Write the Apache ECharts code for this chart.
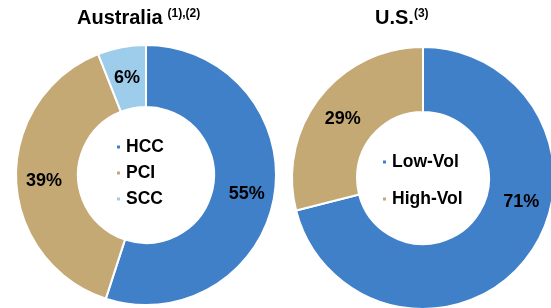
<!DOCTYPE html>
<html>
<head>
<meta charset="utf-8">
<script src="https://cdn.jsdelivr.net/npm/echarts@6/dist/echarts.min.js"></script>
<style>
    html, body {margin: 0; padding: 0; background: #fff;}
    #main {width: 551px; height: 308px;}
</style>
</head>
<body>
<div id="main"></div>
<script>
let auNames = ['HCC', 'PCI', 'SCC'],
    auValues = [55, 39, 6],
    usNames = ['Low-Vol', 'High-Vol'],
    usValues = [71, 29],
    blue = '#4080C9',
    tan = '#C5A975',
    lightBlue = '#9ECDEB';

let myChart = echarts.init(document.getElementById('main'));

let labelStyle = {
    show: true,
    position: 'inside',
    formatter: '{c}%',
    offset: [0, 3],
    color: '#000',
    fontSize: 18,
    fontWeight: 'bold',
    fontFamily: 'Liberation Sans'
};

let legendText = {
    color: '#000',
    fontSize: 17.5,
    fontWeight: 'bold',
    fontFamily: 'Liberation Sans'
};

let titleRich = {
    a: {fontSize: 20, fontWeight: 'bold', fontFamily: 'Liberation Sans', color: '#000'},
    b: {fontSize: 12, fontWeight: 'bold', fontFamily: 'Liberation Sans', color: '#000', verticalAlign: 'top', padding: [0, 0, 6, 0]}
};

let auData = auNames.map(function (n, i) {
    return {name: n, value: auValues[i]};
});
let usData = usNames.map(function (n, i) {
    let item = {name: n, value: usValues[i]};
    // 71% 标签在原图里偏右上
    if (i === 0) {
        item.label = {offset: [18, -38]};
    }
    return item;
});

let option = {
    animation: false,
    title: [{
        text: '{a|Australia} {b|(1),(2)}',
        left: 72,
        top: 3,
        textStyle: {rich: titleRich}
    }, {
        text: '{a|U.S.}{b|(3)}',
        left: 370,
        top: 3,
        textStyle: {rich: titleRich}
    }],
    legend: [{
        data: auNames,
        orient: 'vertical',
        left: 110,
        top: 133,
        icon: 'rect',
        itemWidth: 5,
        itemHeight: 5,
        itemGap: 8,
        textStyle: legendText
    }, {
        data: usNames,
        orient: 'vertical',
        left: 376,
        top: 148,
        icon: 'rect',
        itemWidth: 5,
        itemHeight: 5,
        itemGap: 19,
        textStyle: legendText
    }],
    series: [{
        type: 'pie',
        center: [146, 175],
        radius: [68, 130],
        startAngle: 90,
        color: [blue, tan, lightBlue],
        itemStyle: {borderColor: '#fff', borderWidth: 2},
        label: labelStyle,
        labelLine: {show: false},
        data: auData
    }, {
        type: 'pie',
        center: [423, 178],
        radius: [66, 131],
        startAngle: 90,
        color: [blue, tan],
        itemStyle: {borderColor: '#fff', borderWidth: 2},
        label: labelStyle,
        labelLine: {show: false},
        data: usData
    }]
};

myChart.setOption(option);
</script>
</body>
</html>
